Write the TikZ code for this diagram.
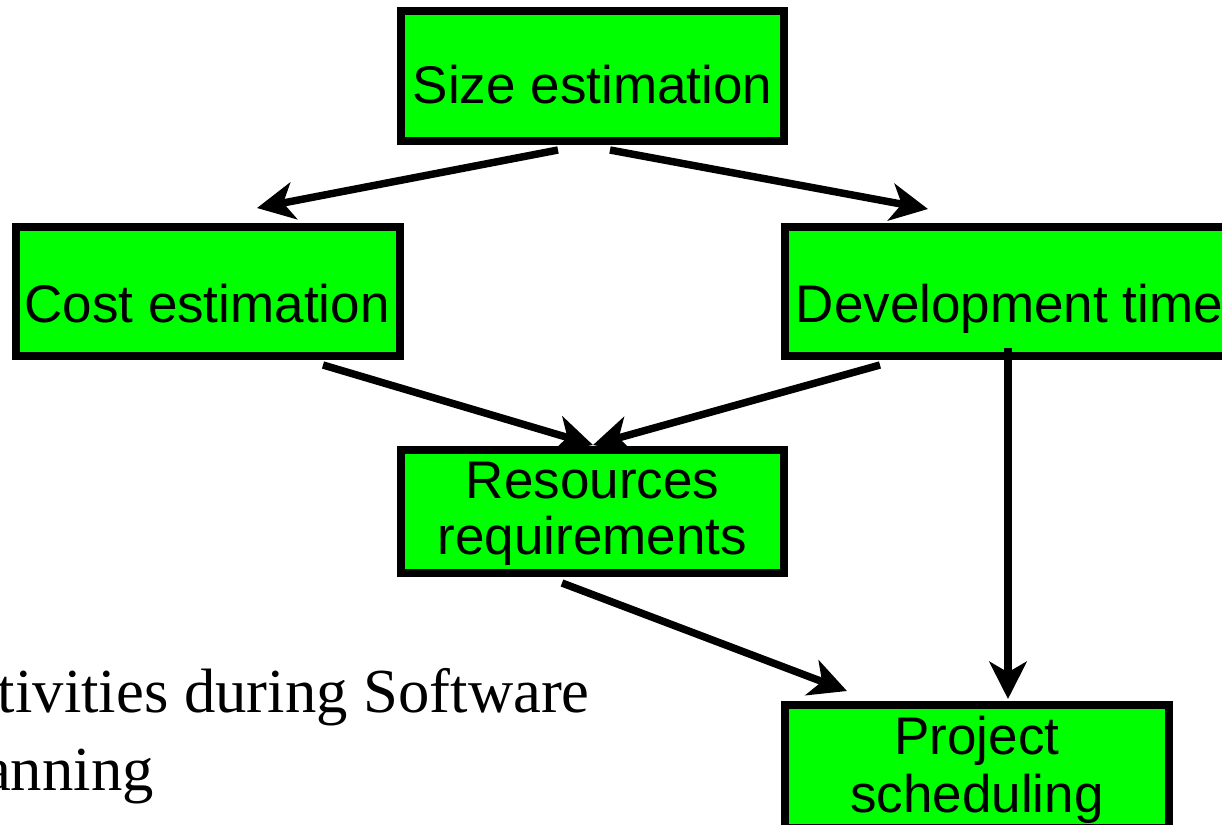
\documentclass[tikz,border=0pt]{standalone}
\usepackage{fontspec}
\setmainfont{Liberation Sans}
\newfontfamily\capfont{Liberation Serif}
\usetikzlibrary{arrows.meta,calc}
\definecolor{boxgreen}{RGB}{0,255,0}
\tikzset{
  box/.style={draw=black, fill=boxgreen, line width=6pt, rectangle, inner sep=0pt, minimum height=#1},
  lbl/.style={anchor=base, inner sep=0pt, font=\fontsize{39.75}{44}\selectfont},
  captext/.style={anchor=base east, inner sep=0pt, font=\capfont\fontsize{47}{52}\selectfont},
  conn/.style={draw=black, line width=5.6pt, -{Stealth[length=28pt, width=28pt, inset=8pt]}}
}
\begin{document}
\begin{tikzpicture}[x=0.75pt, y=-0.75pt]
\useasboundingbox (0,0) rectangle (1222,825);
\clip (0,0) rectangle (1222,825);
% boxes
\node[box=97.5pt, minimum width=287.25pt] (size) at (592.5,76) {};
\node[box=96.75pt, minimum width=288pt] (cost) at (208,291.5) {};
\node[box=96.75pt, minimum width=336pt] (dev) at (1009,291.5) {};
\node[box=92.25pt, minimum width=287.25pt] (res) at (592.5,511.5) {};
\node[box=92.25pt, minimum width=288pt] (proj) at (977,766.5) {};
% texts
\node[lbl] (sizet) at (592.5,103) {Size estimation};
\node[lbl] (costt) at (207,322) {Cost estimation};
\node[lbl] (devt) at (1009.5,322) {Development time};
\node[lbl] (rest1) at (592.5,498) {Resources};
\node[lbl] (rest2) at (592.5,554) {requirements};
\node[lbl] (projt1) at (977,754) {Project};
\node[lbl] (projt2) at (977,812) {scheduling};
% connectors
\draw[conn] ($(size.south)+(-34.5,5)$) -- ($(cost.north)+(49,-15)$);
\draw[conn] ($(size.south)+(17.5,5)$) -- ($(dev.north)+(-81,-14)$);
\draw[conn] ($(cost.south)+(115,5)$) -- ($(res.north)+(0.5,-1)$);
\draw[conn] ($(dev.south)+(-129,5)$) -- ($(res.north)+(0.5,-1)$);
\draw[conn] ($(res.south)+(-30.5,6)$) -- ($(proj.north)+(-130,-10)$);
\draw[conn] ($(dev.south)+(-1,-12)$) -- ($(proj.north)+(31,-2)$);
% caption
\node[captext] (cap1) at (590,712) {tivities during Software};
\node[captext] (cap2) at (154,790) {anning};
\end{tikzpicture}
\end{document}
